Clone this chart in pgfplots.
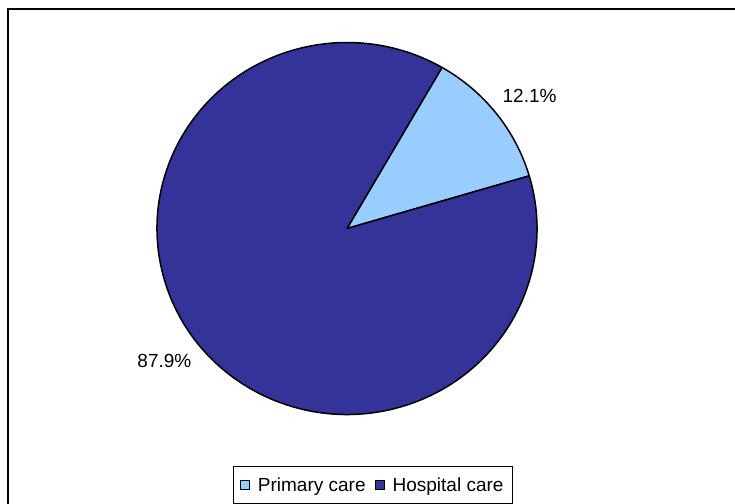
\documentclass[border=0pt]{standalone}
\usepackage{fontspec}
\setmainfont{Liberation Sans}
\usepackage{pgfplots}
\usepackage{pgfplotstable}
\pgfplotsset{compat=1.18}

\definecolor{primary}{HTML}{99CCFF}
\definecolor{hospital}{HTML}{333399}

% Share of spending by setting (per cent)
\pgfplotstableread{
label value colour
{Primary care} 12.1 primary
{Hospital care} 87.9 hospital
}\piedata

\begin{document}
\begin{tikzpicture}
\useasboundingbox (0,0) rectangle (735pt,503pt);
\clip (0,0) rectangle (735pt,503pt);
\begin{axis}[
  hide axis,
  scale only axis,
  width=735pt, height=503pt,
  xmin=0, xmax=735, ymin=0, ymax=503,
  clip=false,
  /pgf/number format/assume math mode=true,
  legend columns=2,
  legend image code/.code={\draw[#1, line width=1pt] (0pt,-4.5pt) rectangle (9pt,4.5pt);},
  legend style={
    at={(axis cs:233,37)}, anchor=north west,
    draw=black, line width=0.9pt,
    inner xsep=6.5pt, inner ysep=9pt,
    font=\fontsize{19}{22}\selectfont,
    /tikz/every odd column/.append style={column sep=6pt},
    /tikz/every even column/.append style={column sep=7pt},
  },
]
% chart frame
\draw[line width=1.6pt] (axis cs:8,-30) -- (axis cs:8,494) -- (axis cs:770,494);

\addlegendimage{fill=primary, draw=black}
\addlegendentry{Primary care}
\addlegendimage{fill=hospital, draw=black}
\addlegendentry{Hospital care}

% wedges, clockwise from 60 degrees
\pgfplotsextra{%
  \xdef\curangle{60}%
  \pgfplotstableforeachcolumnelement{value}\of\piedata\as\val{%
    \pgfplotstablegetelem{\pgfplotstablerow}{colour}\of\piedata
    \let\col\pgfplotsretval
    \pgfmathsetmacro\endangle{\curangle - 3.6*\val}%
    \pgfmathsetmacro\midangle{(\curangle+\endangle)/2 - 2.3}%
    \draw[fill=\col, line width=1.5pt, line join=round]
      (axis cs:347,274.5) -- +(\curangle:190pt and 186pt)
      arc[start angle=\curangle, end angle=\endangle, x radius=190pt, y radius=186pt]
      -- cycle;
    \path (axis cs:347,274.5) ++(\midangle:225.5pt)
      node[font=\fontsize{19}{22}\selectfont]
      {\pgfmathprintnumber[fixed,fixed zerofill,precision=1,assume math mode=true]{\val}\%};
    \xdef\curangle{\endangle}%
  }%
}
\end{axis}
\end{tikzpicture}
\end{document}
